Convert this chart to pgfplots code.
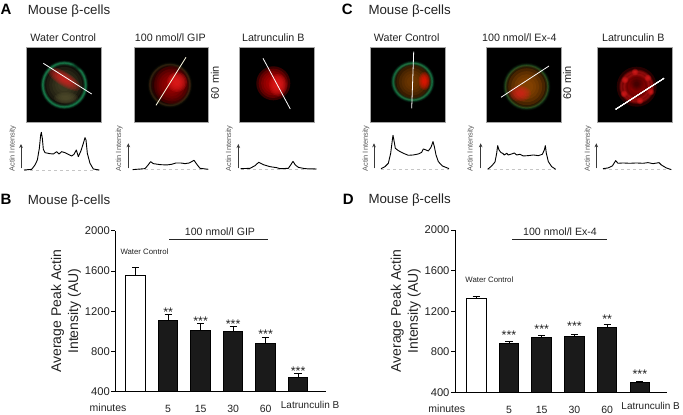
\documentclass[border=0pt]{standalone}
\usepackage{fontspec}
\setmainfont{Liberation Sans}
\usepackage{pgfplots}
\pgfplotsset{compat=1.18}
\usetikzlibrary{arrows.meta}

\definecolor{txt}{HTML}{222222}
\definecolor{barblack}{HTML}{1A1A1A}
\definecolor{ringgreen}{HTML}{1FA463}
\definecolor{cellred}{HTML}{E81E1E}

\newcommand{\fs}[1]{\fontsize{#1}{#1}\selectfont}

% soft spot on a micrograph: x y rx ry colour opacity
\newcommand{\blob}[6]{%
  \foreach \k in {1,.86,.72,.58,.44,.3}
    \fill[#5,opacity=#6] (#1,#2) ellipse [x radius={\k*#3 pt},y radius={\k*#4 pt}];}
% blurry ring: x y rx ry colour strength
\newcommand{\softring}[6]{%
  \foreach \w/\o in {5/.10,3.8/.15,2.6/.25,1.4/.45}{
    \pgfmathsetmacro{\oo}{\o*#6}
    \draw[#5,line width=\w pt,opacity=\oo] (#1,#2) ellipse [x radius=#3pt,y radius=#4pt];}}
\newcommand{\imgbox}[1]{\fill[black,draw=gray!70,line width=.5pt] (#1,47.5) rectangle ++(74.4,74.5);}

\tikzset{stars/.style={font=\fs{12.5}, text=txt, inner sep=0pt, yshift=-3pt}}
\pgfplotsset{
  profile/.style={hide axis, scale only axis, width=110pt, height=30pt,
    xmin=0, xmax=330, ymin=0, ymax=90, clip=false},
  prof/.style={black, line width=.9pt, line join=round, no marks},
  base/.style={gray!45, dashed, line width=.5pt, no marks},
  arrowp/.style={gray!45!black, line width=.7pt, -{Stealth[length=4pt,width=3.6pt]}, no marks},
  barpanel/.style={
    scale only axis, axis lines=left, axis line style={-, line width=.8pt},
    ymin=400, ymax=2000, ytick={400,800,1200,1600,2000},
    xtick={1,2,3,4},
    xticklabels={5,15,30,60},
    tick align=outside, major tick length=4pt,
    ytick style={black, line width=.8pt}, xtick style={draw=none},
    ticklabel style={font=\fs{11.2}, text=txt},
    yticklabel style={xshift=2pt},
    xticklabel style={font=\fs{10.5}, yshift=-6pt, text=txt},
    /pgf/number format/assume math mode=true,
    /pgf/number format/1000 sep={},
    ylabel={Average Peak Actin\\Intensity (AU)},
    ylabel style={align=center, font=\fontsize{14}{17}\selectfont, text=txt, yshift=-3pt},
    clip mode=individual,
    ybar, bar shift=0pt, bar width=19.5pt},
  whitebar/.style={draw=black, fill=white, line width=1pt,
    error bars/.cd, y dir=plus, y explicit, error bar style={black, line width=.9pt},
    error mark options={black, rotate=90, mark size=3.6pt, line width=.9pt}},
  blackbar/.style={draw=black, fill=barblack, line width=1pt,
    error bars/.cd, y dir=plus, y explicit, error bar style={black, line width=.9pt},
    error mark options={black, rotate=90, mark size=3.6pt, line width=.9pt}},
}

\begin{document}
\begin{tikzpicture}
\path[use as bounding box] (0pt,0pt) rectangle (683pt,415pt);

% micrographs and panel text, in picture pixels from the top left
\begin{scope}[x=1pt,y=-1pt,shift={(0pt,415pt)}]
  % A
  \imgbox{26.5}
  \blob{64.3}{85}{21}{21}{olive!45!black}{.2}
  \begin{scope}[rotate around={-32:(64,79)}]
    \blob{64}{79}{19}{7}{cellred}{.2}
  \end{scope}
  \blob{66}{98}{12}{6}{olive!45!black}{.25}
  \softring{64.3}{85}{21.5}{22}{ringgreen}{1}
  \blob{80}{66}{9}{4}{black}{.12}
  \draw[white,line width=.8pt] (43.3,63.3) -- (91.7,94);

  \imgbox{134}
  \blob{170}{85}{21}{21}{red!40!black}{.22}
  \blob{172}{85}{18}{19}{red!70!black}{.18}
  \blob{177}{82}{10}{10}{cellred}{.25}
  \softring{170}{85}{20}{20.5}{olive!60!black}{.4}
  \draw[white!90!yellow,line width=.8pt] (186,57.3) -- (156,105.3);

  \imgbox{239.6}
  \blob{273.3}{83.3}{17}{17}{red!75!black}{.3}
  \blob{278}{85}{9}{11}{cellred}{.22}
  \draw[white,line width=.8pt] (263,58.3) -- (290.3,109);

  % C
  \imgbox{370.6}
  \blob{412.7}{81.7}{19}{19}{orange!50!black}{.25}
  \blob{424.5}{81}{6}{9}{red!85!orange}{.22}
  \softring{412.7}{81.7}{19.5}{18.5}{ringgreen}{.85}
  \draw[white,line width=.8pt] (413.7,51.7) -- (411.7,108.3);

  \imgbox{486.6}
  \blob{526.7}{86.7}{21.5}{21.5}{orange!60!black}{.28}
  \blob{520}{93.5}{11}{8}{cellred}{.18}
  \softring{526.7}{86.7}{21.5}{21.5}{ringgreen!70!olive}{.5}
  \draw[white,line width=.8pt] (549,66) -- (501,97.3);

  \imgbox{597.4}
  \blob{636.7}{86.7}{20}{20}{red!70!black}{.22}
  \softring{636.7}{86.7}{12.5}{12.5}{cellred}{.5}
  \softring{636.7}{86.7}{15.5}{15}{cellred}{.5}
  \blob{636.7}{84}{7}{7}{black}{.1}
  \foreach \sx/\sy in {625/80,648/78,651/92,640/101,624/94,635/72}
    \blob{\sx}{\sy}{3.5}{3.5}{cellred}{.18}
  \draw[white,line width=.8pt] (664,78.3) -- (615.7,109.3);

  \foreach \t/\x/\y in {A/6/9.5,C/347.3/9.5,B/6/199.5,D/348.3/199.5}
    \node[font=\fs{15}\bfseries,inner sep=0pt] at (\x,\y) {\t};
  \foreach \x/\y in {27.7/11,368.3/11,27.7/201,368.3/200.5}
    \node[anchor=west,font=\fs{13.3},text=txt,inner sep=0pt] at (\x,\y) {Mouse β-cells};
  \foreach \t/\x in {Water Control/63.3,{100 nmol/l GIP}/170.3,Latrunculin B/273.3,
                     Water Control/406.7,{100 nmol/l Ex-4}/519.3,Latrunculin B/633.3}
    \node[font=\fs{10.7},text=txt,inner sep=0pt] at (\x,37.7) {\t};
  \foreach \x in {215,567.3}
    \node[rotate=90,font=\fs{11},text=txt,inner sep=0pt] at (\x,82.7) {60 min};
  \foreach \x/\y in {12.7/148.5,119.3/148.5,229.3/148.5,366/148.5,470.7/148.5,588/148.5}
    \node[rotate=90,font=\fs{7.4},text=gray!70!black,inner sep=0pt] at (\x,\y) {Actin Intensity};

  \node[font=\fs{10.6},text=txt,inner sep=0pt] at (220,231.7) {100 nmol/l GIP};
  \draw[gray!30!black,line width=.9pt] (169,239.7) -- (267.7,239.7);
  \node[font=\fs{10.6},text=txt,inner sep=0pt] at (560,231.7) {100 nmol/l Ex-4};
  \draw[gray!30!black,line width=.9pt] (512,239.7) -- (607,239.7);
\end{scope}

% line profiles: x in 1/3 px from the crop edge, height in 1/3 px over the baseline
\begin{axis}[profile, at={(0pt,245pt)}]
  \addplot[base] coordinates {(72,0) (298,0)};
  \addplot[arrowp] coordinates {(63,5) (63,78)};
  \addplot[prof] coordinates {(72,0) (95,2) (105,15) (112,30) (118,65) (122,105) (124,113) (127,95) (130,62) (135,52) (150,49) (160,48) (170,55) (177,48) (185,55) (195,52) (205,47) (215,42) (222,47) (229,60) (235,40) (243,58) (250,80) (255,97) (258,90) (262,50) (270,20) (280,3) (298,0)};
\end{axis}
\begin{axis}[profile, at={(110pt,245.7pt)}]
  \addplot[base] coordinates {(68,0) (295,0)};
  \addplot[arrowp] coordinates {(55,3) (55,78)};
  \addplot[prof] coordinates {(68,-1) (105,2) (112,10) (122,23) (130,17) (150,14) (170,13) (185,15) (198,19) (212,19) (225,17) (238,19) (252,27) (262,13) (270,3) (295,0)};
\end{axis}
\begin{axis}[profile, at={(220pt,246pt)}]
  \addplot[base] coordinates {(62,0) (290,0)};
  \addplot[arrowp] coordinates {(55,2) (55,75)};
  \addplot[prof] coordinates {(62,1) (90,2) (105,10) (116,20) (130,13) (150,7) (170,4) (180,1) (205,2) (212,12) (219,23) (226,12) (235,5) (255,1) (290,0)};
\end{axis}
\begin{axis}[profile, at={(355pt,245.7pt)}]
  \addplot[base] coordinates {(78,0) (282,0)};
  \addplot[arrowp] coordinates {(57,3) (57,78)};
  \addplot[prof] coordinates {(78,2) (90,8) (100,18) (107,48) (112,88) (114,102) (117,86) (121,63) (130,56) (145,48) (160,42) (175,43) (190,46) (200,51) (205,61) (213,58) (220,55) (228,66) (234,83) (238,68) (243,43) (250,23) (262,10) (282,2)};
\end{axis}
\begin{axis}[profile, at={(465pt,245.7pt)}]
  \addplot[base] coordinates {(68,0) (272,0)};
  \addplot[arrowp] coordinates {(47,3) (47,78)};
  \addplot[prof] coordinates {(68,0) (80,10) (90,22) (95,48) (98,71) (102,58) (108,50) (113,48) (118,43) (125,48) (130,43) (140,46) (148,49) (155,43) (165,45) (175,40) (190,41) (205,43) (220,41) (232,45) (238,58) (241,71) (244,48) (250,23) (260,8) (272,0)};
\end{axis}
\begin{axis}[profile, at={(573pt,245.7pt)}]
  \addplot[base] coordinates {(90,0) (295,0)};
  \addplot[arrowp] coordinates {(70,3) (70,78)};
  \addplot[prof] coordinates {(90,2) (105,4) (118,10) (128,26) (135,18) (150,19) (170,18) (190,19) (210,18) (225,20) (240,17) (258,20) (265,13) (280,4) (295,-1)};
\end{axis}

% B
\begin{axis}[barpanel, at={(115.3pt,23.3pt)}, width=210.7pt, height=161pt,
    xmin=-0.628, xmax=5.86]
  \addplot[whitebar] coordinates {(0,1555) +- (0,80)};
  \addplot[blackbar] coordinates {
    (1,1105) +- (0,63)
    (2,1010) +- (0,66)
    (3,996) +- (0,53)
    (4,880) +- (0,60)
    (5,539) +- (0,43)};
  \node[stars] at (axis cs:1,1221) {**};
  \node[stars] at (axis cs:2,1129) {***};
  \node[stars] at (axis cs:3,1102) {***};
  \node[stars] at (axis cs:4,1003) {***};
  \node[stars] at (axis cs:5,632) {***};
  \node[font=\fs{7.8},text=txt] at (axis cs:0.27,1790) {Water Control};
  \node[font=\fs{10.5},text=txt,inner sep=0pt] at (axis cs:-0.85,242) {minutes};
  \node[font=\fs{10},text=txt,inner sep=0pt] at (axis cs:5.37,268) {Latrunculin B};
\end{axis}

% D
\begin{axis}[barpanel, at={(455pt,22.7pt)}, width=211.7pt, height=162.3pt,
    xmin=-0.651, xmax=5.82]
  \addplot[whitebar] coordinates {(0,1326) +- (0,23)};
  \addplot[blackbar] coordinates {
    (1,880) +- (0,23)
    (2,939) +- (0,23)
    (3,949) +- (0,23)
    (4,1041) +- (0,29)
    (5,492) +- (0,13)};
  \node[stars] at (axis cs:1,995) {***};
  \node[stars] at (axis cs:2,1054) {***};
  \node[stars] at (axis cs:3,1080) {***};
  \node[stars] at (axis cs:4,1152) {**};
  \node[stars] at (axis cs:5,610) {***};
  \node[font=\fs{7.8},text=txt] at (axis cs:0.4,1510) {Water Control};
  \node[font=\fs{10.5},text=txt,inner sep=0pt] at (axis cs:-0.9,242) {minutes};
  \node[font=\fs{10},text=txt,inner sep=0pt] at (axis cs:5.33,268) {Latrunculin B};
\end{axis}
\end{tikzpicture}
\end{document}
